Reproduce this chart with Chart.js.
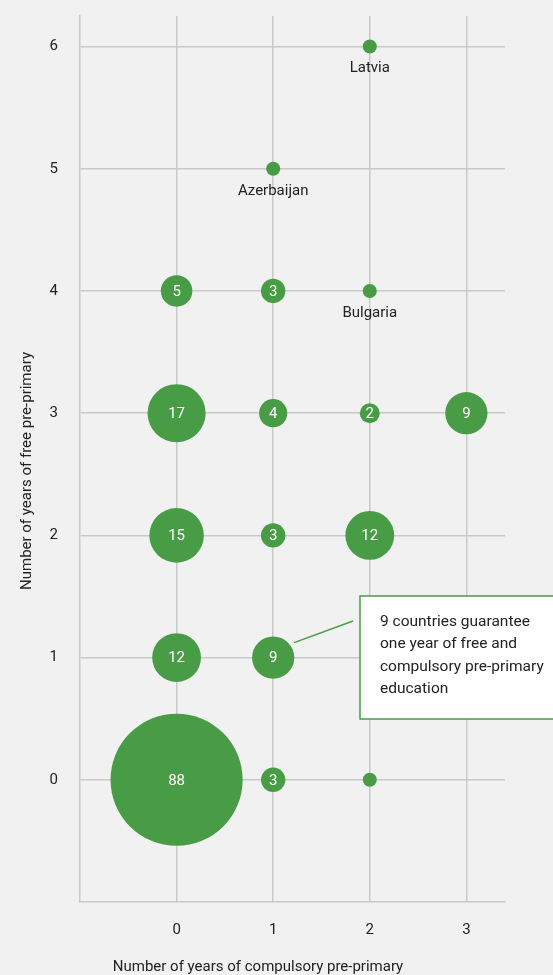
<!DOCTYPE html>
<html>
<head>
<meta charset="utf-8">
<script src="https://cdn.jsdelivr.net/npm/chart.js@4"></script>
<style>
  html, body { margin: 0; padding: 0; background: #f1f1f1; }
  #wrap { width: 553px; height: 975px; }
</style>
</head>
<body>
<div id="wrap"><canvas id="chart" width="553" height="975"></canvas></div>
<script>
// years of compulsory pre-primary (x), years of free pre-primary (y), number of countries
const compulsoryYears = [0, 1, 2, 0, 1, 0, 1, 2, 0, 1, 2, 3, 0, 1, 2, 1, 2];
const freeYears = [0, 0, 0, 1, 1, 2, 2, 2, 3, 3, 3, 3, 4, 4, 4, 5, 6];
const countries = [88, 3, 1, 12, 9, 15, 3, 12, 17, 4, 2, 9, 5, 3, 1, 1, 1];
const countryNames = ['', '', '', '', '', '', '', '', '', '', '', '', '', '', 'Bulgaria', 'Azerbaijan', 'Latvia'];

const xTicks = [0, 1, 2, 3];
const yTicks = [0, 1, 2, 3, 4, 5, 6];

const xTitle = 'Number of years of compulsory pre-primary';
const yTitle = 'Number of years of free pre-primary';
const noteLines = ['9 countries guarantee', 'one year of free and', 'compulsory pre-primary', 'education'];

const green = '#489c45';
const gridColor = '#c9c9c9';
const textColor = '#222222';
const fontFamily = 'Roboto, "Noto Sans", sans-serif';

// bubble area proportional to the number of countries
const sizeFactor = 7.04;
const points = compulsoryYears.map(function(x, i) {
    return { x: x, y: freeYears[i], r: sizeFactor * Math.sqrt(countries[i]) };
});

// labels, axis titles and the callout box
const extrasPlugin = {
    id: 'extras',
    afterDatasetsDraw: function(chart) {
        const ctx = chart.ctx;
        const meta = chart.getDatasetMeta(0);
        ctx.save();
        ctx.textAlign = 'center';
        ctx.textBaseline = 'middle';
        meta.data.forEach(function(el, i) {
            if (countries[i] > 1) {
                ctx.fillStyle = '#ffffff';
                ctx.font = '15px ' + fontFamily;
                ctx.fillText(String(countries[i]), el.x, el.y + 1);
            }
            if (countryNames[i]) {
                ctx.fillStyle = textColor;
                ctx.font = '15px ' + fontFamily;
                ctx.fillText(countryNames[i], el.x, el.y + 22);
            }
        });

        // callout for the (1,1) bubble
        const xs = chart.scales.x, ys = chart.scales.y;
        const bx = xs.getPixelForValue(1), by = ys.getPixelForValue(1);
        ctx.strokeStyle = green;
        ctx.lineWidth = 1.5;
        ctx.beginPath();
        ctx.moveTo(bx + 21, by - 15);
        ctx.lineTo(353, 621);
        ctx.stroke();

        ctx.fillStyle = '#ffffff';
        ctx.fillRect(360, 596, 200, 123);
        ctx.strokeStyle = green;
        ctx.lineWidth = 1.5;
        ctx.strokeRect(360, 596, 200, 123);

        ctx.fillStyle = textColor;
        ctx.font = '15.5px ' + fontFamily;
        ctx.textAlign = 'left';
        noteLines.forEach(function(line, i) {
            ctx.fillText(line, 380, 622 + i * 22.4);
        });

        // axis titles
        ctx.font = '15px ' + fontFamily;
        ctx.textAlign = 'center';
        ctx.fillText(xTitle, 258, 967);
        ctx.translate(27, 471);
        ctx.rotate(-Math.PI / 2);
        ctx.fillText(yTitle, 0, 0);
        ctx.restore();
    }
};

const chart = new Chart(document.getElementById('chart').getContext('2d'), {
    type: 'bubble',
    data: {
        datasets: [{
            data: points,
            backgroundColor: green,
            borderWidth: 0,
            hoverBorderWidth: 0,
            clip: false
        }]
    },
    options: {
        responsive: false,
        animation: false,
        events: [],
        layout: { autoPadding: false, padding: { top: 16, right: 48, left: 0, bottom: 0 } },
        plugins: {
            legend: { display: false },
            tooltip: { enabled: false }
        },
        scales: {
            x: {
                type: 'linear',
                min: -1,
                max: 3.4,
                afterBuildTicks: function(scale) {
                    scale.ticks = xTicks.map(function(v) { return { value: v }; });
                },
                afterFit: function(scale) {
                    scale.height = 73;
                    scale.paddingLeft = 0;
                    scale.paddingRight = 0;
                },
                grid: { color: gridColor, lineWidth: 1.5, drawTicks: false },
                border: { color: gridColor, width: 1.5 },
                ticks: {
                    padding: 19,
                    color: textColor,
                    font: { family: fontFamily, size: 15 }
                }
            },
            y: {
                type: 'linear',
                min: -1,
                max: 6.25,
                afterBuildTicks: function(scale) {
                    scale.ticks = yTicks.map(function(v) { return { value: v }; });
                },
                afterFit: function(scale) {
                    scale.width = 80;
                    scale.paddingTop = 0;
                    scale.paddingBottom = 0;
                },
                grid: { color: gridColor, lineWidth: 1.5, drawTicks: false },
                border: { color: gridColor, width: 1.5 },
                ticks: {
                    padding: 22,
                    color: textColor,
                    font: { family: fontFamily, size: 15 }
                }
            }
        }
    },
    plugins: [extrasPlugin]
});
</script>
</body>
</html>
